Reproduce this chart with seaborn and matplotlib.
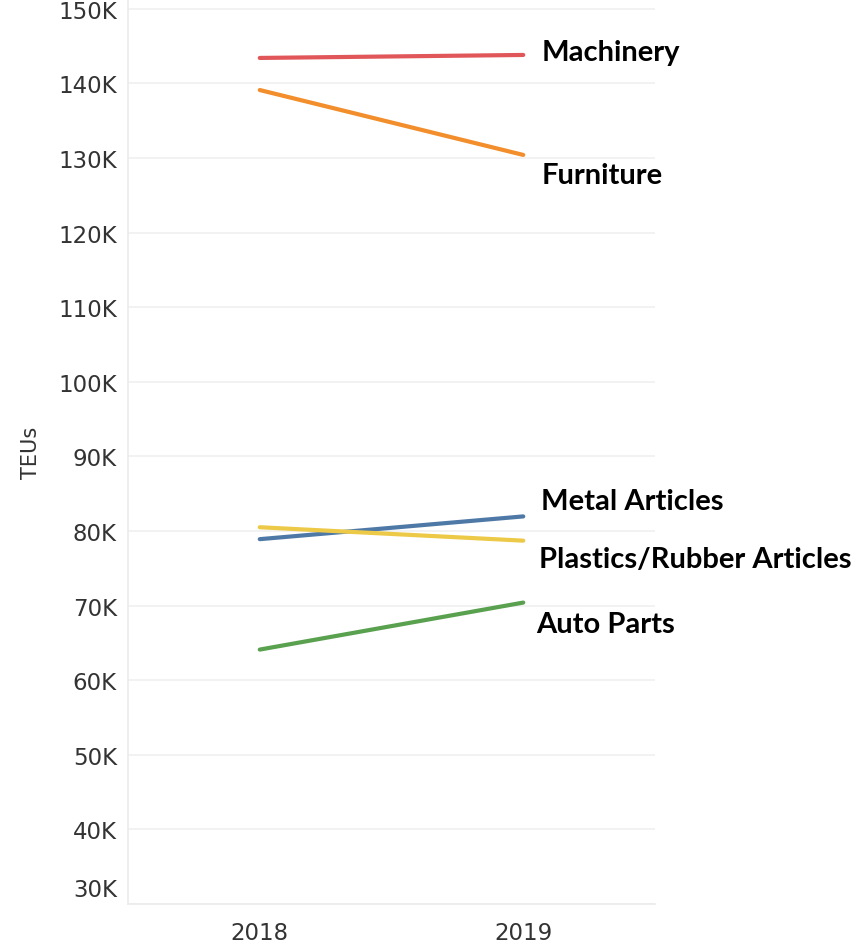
import matplotlib
matplotlib.use("Agg")
import matplotlib.pyplot as plt
import matplotlib.ticker as mticker
import matplotlib.transforms as mtrans
import seaborn as sns
import pandas as pd

years = ["2018", "2019"]
categories = ["Machinery", "Furniture", "Metal Articles", "Plastics/Rubber Articles", "Auto Parts"]
machinery = [143400, 143800]
furniture = [139100, 130400]
metal_articles = [78900, 81950]
plastics_rubber = [80500, 78700]
auto_parts = [64100, 70400]
y_ticks = [30000, 40000, 50000, 60000, 70000, 80000, 90000, 100000,
           110000, 120000, 130000, 140000, 150000]

series = [machinery, furniture, metal_articles, plastics_rubber, auto_parts]
rows = []
for cat, vals in zip(categories, series):
    for yr, v in zip(years, vals):
        rows.append({"Year": yr, "Category": cat, "TEUs": v})
df = pd.DataFrame(rows)

palette = {
    "Machinery": "#e15759",
    "Furniture": "#f28e2b",
    "Metal Articles": "#4e79a7",
    "Plastics/Rubber Articles": "#edc948",
    "Auto Parts": "#59a14f",
}

sns.set_theme(style="white")
plt.rcParams["font.family"] = ["DejaVu Sans"]

fig = plt.figure(figsize=(8.57, 9.45), dpi=100)
ax = fig.add_axes([128 / 857, 40 / 945, (655 - 128) / 857, 905 / 945])

sns.lineplot(data=df, x="Year", y="TEUs", hue="Category", palette=palette,
             linewidth=3, legend=False, ax=ax, sort=False)

ax.set_xlim(-0.5, 1.5)
ax.set_ylim(30000, 151300)

ax.set_yticks(y_ticks)
ax.yaxis.set_major_formatter(mticker.FuncFormatter(lambda v, p: f"{int(v/1000)}K"))
ax.grid(axis="y", color="#f0f0f0", linewidth=1.2)
ax.set_axisbelow(True)

grid_c = "#ebebeb"
for s in ["top", "right"]:
    ax.spines[s].set_visible(False)
ax.spines["left"].set_color(grid_c)
ax.spines["bottom"].set_color(grid_c)
ax.spines["left"].set_linewidth(1.2)
ax.spines["bottom"].set_linewidth(1.2)

ax.tick_params(axis="y", length=7, color="#f0f0f0", width=1.2, labelsize=16.5,
               labelcolor="#333333", pad=1)
ax.tick_params(axis="x", which="major", length=0, labelsize=16.5,
               labelcolor="#333333", pad=12)
ax.set_xticks([-0.5, 0.5, 1.5], minor=True)
ax.tick_params(axis="x", which="minor", length=7, color=grid_c, width=1.2)

# the bottom 30K label sits above its gridline, as in the reference
for lbl in ax.get_yticklabels():
    if lbl.get_text() == "30K":
        lbl.set_transform(lbl.get_transform() + mtrans.ScaledTranslation(0, 0.17, fig.dpi_scale_trans))

ax.set_xlabel("")
ax.set_ylabel("TEUs", fontsize=15, color="#333333", labelpad=12)

offsets = {
    "Machinery": (18, -5),
    "Furniture": (18, -28),
    "Metal Articles": (18, 7),
    "Plastics/Rubber Articles": (16, -26),
    "Auto Parts": (13, -29),
}
for cat, vals in zip(categories, series):
    dx, dy = offsets[cat]
    ax.annotate(cat, xy=(1, vals[1]), xytext=(dx, dy), textcoords="offset pixels",
                ha="left", va="baseline", fontsize=21, fontweight="bold",
                family=["Lato", "DejaVu Sans"], color="black", annotation_clip=False)

fig.savefig("out.png", dpi=100)
